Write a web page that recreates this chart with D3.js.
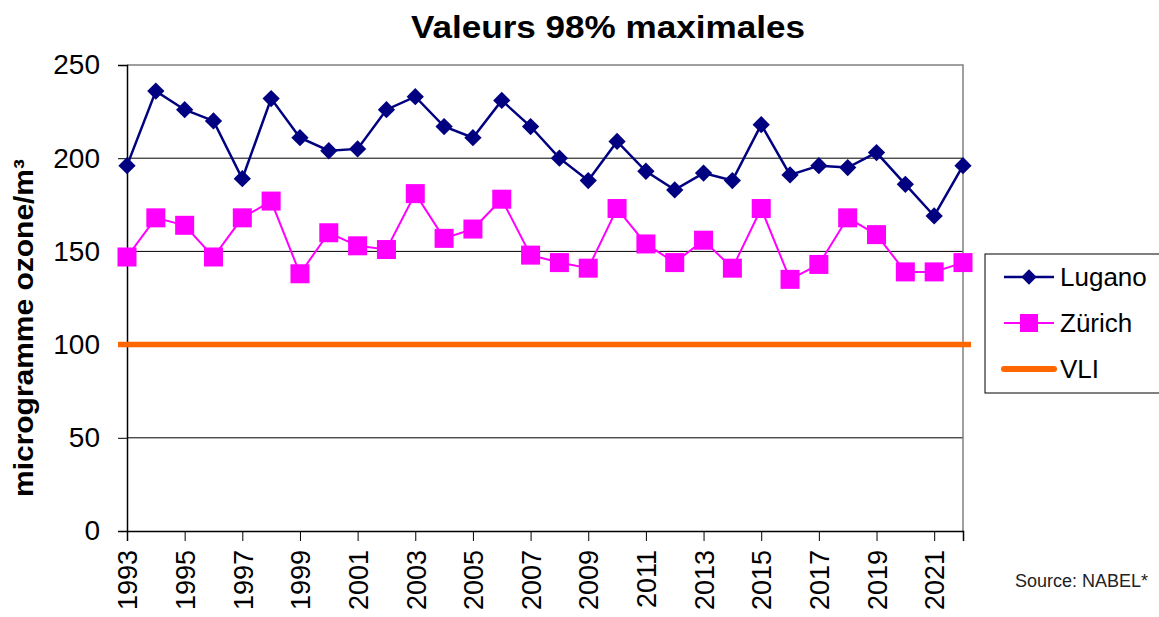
<!DOCTYPE html>
<html lang="fr">
<head>
  <meta charset="UTF-8">
  <title>Valeurs 98% maximales</title>
  <script src="https://d3js.org/d3.v7.min.js"></script>
  <style>
    body { margin: 0; background: #fff; }
    svg { display: block; font-family: "Liberation Sans", Arial, sans-serif; }
  </style>
</head>
<body>
  <svg width="1159" height="617"></svg>
  <script>
    const years = d3.range(1993, 2023);
    const lugano = [196, 236, 226, 220, 189, 232, 211, 204, 205, 226,
                    233, 217, 211, 231, 217, 200, 188, 209, 193, 183,
                    192, 188, 218, 191, 196, 195, 203, 186, 169, 196];
    const zurich = [147, 168, 164, 147, 168, 177, 138, 160, 153, 151,
                    181, 157, 162, 178, 148, 144, 141, 173, 154, 144,
                    156, 141, 173, 135, 143, 168, 159, 139, 139, 144];
    const vli = 100;
    const yTicks = [0, 50, 100, 150, 200, 250];
    const xTicks = d3.range(1993, 2022, 2);

    const svg = d3.select("svg");
    const plot = { left: 127, right: 963, top: 65, bottom: 531 };

    const x = d3.scaleLinear().domain([1993, 2022]).range([plot.left, plot.right]);
    const y = d3.scaleLinear().domain([0, 250]).range([plot.bottom, plot.top]);

    // gridlines
    svg.append("g")
      .selectAll("line")
      .data(yTicks.filter(d => d > 0 && d < 250))
      .join("line")
      .attr("x1", plot.left).attr("x2", plot.right)
      .attr("y1", d => y(d)).attr("y2", d => y(d))
      .attr("stroke", "#000").attr("stroke-width", 1);

    // top / right border
    svg.append("path")
      .attr("d", `M${plot.left},${plot.top}H${plot.right}V${plot.bottom}`)
      .attr("fill", "none").attr("stroke", "#808080").attr("stroke-width", 1.5);

    // axes
    const gY = svg.append("g")
      .attr("transform", `translate(${plot.left},0)`)
      .call(d3.axisLeft(y).tickValues(yTicks).tickSize(9).tickPadding(18));
    gY.select(".domain").attr("stroke", "#000").attr("stroke-width", 1.5);
    gY.selectAll(".tick line").attr("stroke", "#000");
    gY.selectAll(".tick text")
      .attr("font-size", 28).attr("fill", "#000")
      .attr("font-family", "Liberation Sans, Arial, sans-serif");

    const gX = svg.append("g")
      .attr("transform", `translate(0,${plot.bottom})`)
      .call(d3.axisBottom(x).tickValues(xTicks).tickSize(10).tickFormat(d3.format("d")));
    gX.select(".domain").attr("stroke", "#000").attr("stroke-width", 1.5);
    gX.selectAll(".tick line").attr("stroke", "#000");
    gX.selectAll(".tick text")
      .attr("font-size", 27).attr("fill", "#000")
      .attr("font-family", "Liberation Sans, Arial, sans-serif")
      .attr("text-anchor", "end")
      .attr("transform", "rotate(-90)")
      .attr("x", -19).attr("y", 0).attr("dy", "0.36em");

    // VLI line
    svg.append("line")
      .attr("x1", plot.left - 9).attr("x2", plot.right + 8)
      .attr("y1", y(vli)).attr("y2", y(vli))
      .attr("stroke", "#FF6600").attr("stroke-width", 5.5);

    // Zürich
    const line = d3.line().x((d, i) => x(years[i])).y(d => y(d));
    svg.append("path").datum(zurich)
      .attr("d", line).attr("fill", "none")
      .attr("stroke", "#FF00FF").attr("stroke-width", 2);
    svg.append("g").selectAll("rect")
      .data(zurich).join("rect")
      .attr("x", (d, i) => x(years[i]) - 9.5)
      .attr("y", d => y(d) - 9.5)
      .attr("width", 19).attr("height", 19)
      .attr("fill", "#FF00FF");

    // Lugano
    svg.append("path").datum(lugano)
      .attr("d", line).attr("fill", "none")
      .attr("stroke", "#000080").attr("stroke-width", 2.5);
    const diamond = d3.symbol().type(d3.symbolDiamond2).size(190);
    svg.append("g").selectAll("path")
      .data(lugano).join("path")
      .attr("d", diamond)
      .attr("transform", (d, i) => `translate(${x(years[i])},${y(d)})`)
      .attr("fill", "#000080");

    // title
    svg.append("text")
      .attr("x", 411).attr("y", 38)
      .attr("font-size", 32).attr("font-weight", "bold")
      .attr("textLength", 394).attr("lengthAdjust", "spacingAndGlyphs")
      .text("Valeurs 98% maximales");

    // y title
    svg.append("text")
      .attr("transform", "translate(33,328) rotate(-90)")
      .attr("text-anchor", "middle")
      .attr("font-size", 27).attr("font-weight", "bold")
      .attr("textLength", 338).attr("lengthAdjust", "spacingAndGlyphs")
      .text("microgramme ozone/m³");

    // legend
    const legend = svg.append("g");
    legend.append("rect")
      .attr("x", 985).attr("y", 254).attr("width", 200).attr("height", 139)
      .attr("fill", "#fff").attr("stroke", "#000").attr("stroke-width", 1);
    const items = [
      { name: "Lugano", color: "#000080", w: 2.5, marker: "diamond", y: 277 },
      { name: "Zürich", color: "#FF00FF", w: 2, marker: "square", y: 323 },
      { name: "VLI", color: "#FF6600", w: 6, marker: null, y: 369 }
    ];
    items.forEach(it => {
      legend.append("line")
        .attr("x1", 1004).attr("x2", 1054)
        .attr("y1", it.y).attr("y2", it.y)
        .attr("stroke", it.color).attr("stroke-width", it.w)
        .attr("stroke-linecap", it.marker ? "butt" : "round");
      if (it.marker === "diamond") {
        legend.append("path")
          .attr("d", d3.symbol().type(d3.symbolDiamond2).size(150))
          .attr("transform", `translate(1029,${it.y})`)
          .attr("fill", it.color);
      } else if (it.marker === "square") {
        legend.append("rect")
          .attr("x", 1020).attr("y", it.y - 9).attr("width", 18).attr("height", 18)
          .attr("fill", it.color);
      }
      legend.append("text")
        .attr("x", 1060).attr("y", it.y).attr("dy", "0.36em")
        .attr("font-size", 26).text(it.name);
    });

    // source
    svg.append("text")
      .attr("x", 1015).attr("y", 587)
      .attr("font-size", 18).attr("fill", "#222")
      .text("Source: NABEL*");
  </script>
</body>
</html>
